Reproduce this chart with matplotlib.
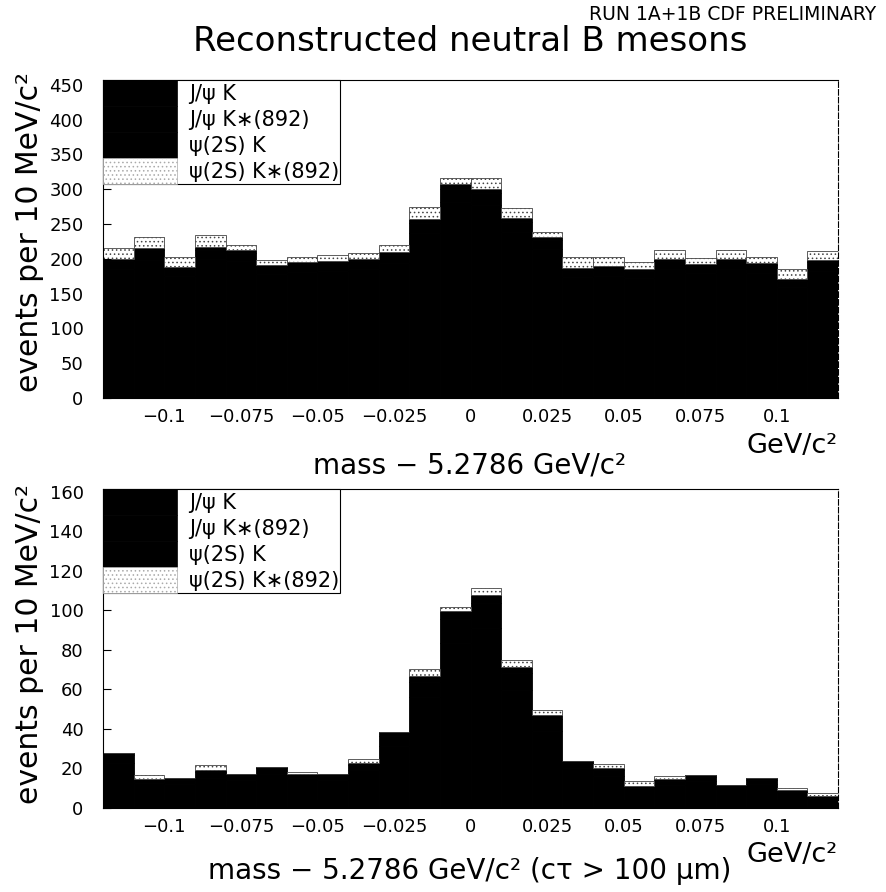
import numpy as np
import matplotlib
matplotlib.use('Agg')
import matplotlib.pyplot as plt
from matplotlib.patches import Patch

# bin edges: 10 MeV bins in (mass - 5.2786) GeV/c^2
edges = np.linspace(-0.12, 0.12, 25)
labels = ['J/ψ K', 'J/ψ K∗(892)', 'ψ(2S) K', 'ψ(2S) K∗(892)']

# all candidates
top_jpsik = [185, 198, 175, 200, 197, 178, 181, 183, 185, 194, 237, 282,
             278, 238, 214, 174, 175, 172, 185, 179, 185, 180, 159, 183]
top_jpsikstar = [12, 14, 10, 13, 12, 10, 11, 11, 12, 12, 15, 18,
                 17, 15, 13, 10, 11, 10, 12, 11, 12, 11, 9, 12]
top_psi2sk = [3, 4, 3, 4, 3, 3, 3, 3, 3, 4, 5, 7,
              6, 5, 4, 3, 3, 3, 3, 3, 3, 3, 3, 3]
top_psi2skstar = [15, 16, 15, 17, 8, 8, 7, 9, 9, 10, 18, 9,
                  15, 15, 8, 15, 14, 10, 13, 8, 13, 9, 15, 13]

# candidates with ctau > 100 um
bot_jpsik = [23, 12.5, 12, 15, 14, 17, 15, 14, 19, 31.5, 56, 83.5,
             91, 59.5, 39, 20, 16, 10, 11.5, 13.5, 10.5, 12, 8, 5]
bot_jpsikstar = [4, 2, 2, 3, 2, 3, 2, 2, 3, 5, 8, 12,
                 13, 9, 6, 3, 3, 1, 2, 2, 1, 2, 1, 1]
bot_psi2sk = [1, 0, 1, 1, 1, 1, 0, 1, 1, 2, 3, 4,
              4, 3, 2, 1, 1, 0, 1, 1, 0, 1, 0, 0]
bot_psi2skstar = [0, 2.2, 0, 3, 0, 0, 1.2, 0, 2, 0, 3.5, 2.5,
                  3.4, 3.4, 2.8, 0, 2.2, 2.7, 1.7, 0, 0, 0, 1.2, 1.8]

xticks = [-0.1, -0.075, -0.05, -0.025, 0, 0.025, 0.05, 0.075, 0.1]
xticklabels = ['−0.1', '−0.075', '−0.05', '−0.025', '0', '0.025', '0.05', '0.075', '0.1']

W, H = 886, 892
plt.rcParams['font.family'] = ['DejaVu Sans']
plt.rcParams['hatch.linewidth'] = 0.6

fig = plt.figure(figsize=(W / 100, H / 100), dpi=100)


def fx(px):
    return px / W


def fy(py):
    return 1 - py / H


face = ['black', 'black', 'black', 'white']
edge = ['black', 'black', 'black', '#444444']
hatch = [None, None, None, '....']


def draw_panel(ax, comps, ymax, yticks):
    lo = edges[:-1]
    width = edges[1] - edges[0]
    bottom = np.zeros(len(lo))
    for vals, fc, ec, h in zip(comps, face, edge, hatch):
        vals = np.array(vals, dtype=float)
        ax.bar(lo, vals, width=width, bottom=bottom, align='edge',
               color=fc, edgecolor=ec, linewidth=0.6, hatch=h)
        bottom = bottom + vals
    ax.set_xlim(edges[0], edges[-1])
    ax.set_ylim(0, ymax)
    ax.set_xticks(xticks)
    ax.set_xticklabels(xticklabels)
    ax.set_yticks(yticks)
    ax.tick_params(axis='x', direction='in', length=6, pad=7, labelsize=13)
    ax.tick_params(axis='y', direction='in', length=6, pad=14, labelsize=13)
    for s in ax.spines.values():
        s.set_linewidth(0.8)
    ax.spines['right'].set_linestyle((0, (5, 2)))

    handles = [Patch(facecolor=fc, edgecolor=('black' if fc == 'black' else '#aaaaaa'),
                     hatch=h, linewidth=0.5)
               for fc, h in zip(face, hatch)]
    leg = ax.legend(handles, labels, loc='upper left', fontsize=15,
                    handlelength=3.55, handleheight=1.55, labelspacing=0,
                    handletextpad=0.6, borderpad=0, borderaxespad=0,
                    fancybox=False, framealpha=1, edgecolor='black')
    leg.get_frame().set_linewidth(0.8)


# top panel: all reconstructed candidates
ax1 = fig.add_axes([fx(103), fy(398), (838 - 103) / W, (398 - 80) / H])
draw_panel(ax1, [top_jpsik, top_jpsikstar, top_psi2sk, top_psi2skstar],
           457, range(0, 451, 50))

# bottom panel: long lived candidates
ax2 = fig.add_axes([fx(103), fy(808), (838 - 103) / W, (808 - 489) / H])
draw_panel(ax2, [bot_jpsik, bot_jpsikstar, bot_psi2sk, bot_psi2skstar],
           161.5, range(0, 161, 20))

# texts
fig.text(fx(876), fy(20), 'RUN 1A+1B CDF PRELIMINARY', ha='right', va='baseline', fontsize=13.5)
fig.text(fx(470), fy(51), 'Reconstructed neutral B mesons', ha='center', va='baseline', fontsize=24.5)

fig.text(fx(470), fy(474), 'mass − 5.2786 GeV/c²', ha='center', va='baseline', fontsize=20)
fig.text(fx(838), fy(453), 'GeV/c²', ha='right', va='baseline', fontsize=19.5)
fig.text(fx(470), fy(879), 'mass − 5.2786 GeV/c² (cτ > 100 μm)', ha='center', va='baseline', fontsize=20)
fig.text(fx(838), fy(862), 'GeV/c²', ha='right', va='baseline', fontsize=19.5)

fig.text(fx(30), fy(232), 'events per 10 MeV/c²', rotation=90, ha='center', va='center', fontsize=21.5)
fig.text(fx(30), fy(644), 'events per 10 MeV/c²', rotation=90, ha='center', va='center', fontsize=21.5)

fig.savefig('out.png', dpi=100)
